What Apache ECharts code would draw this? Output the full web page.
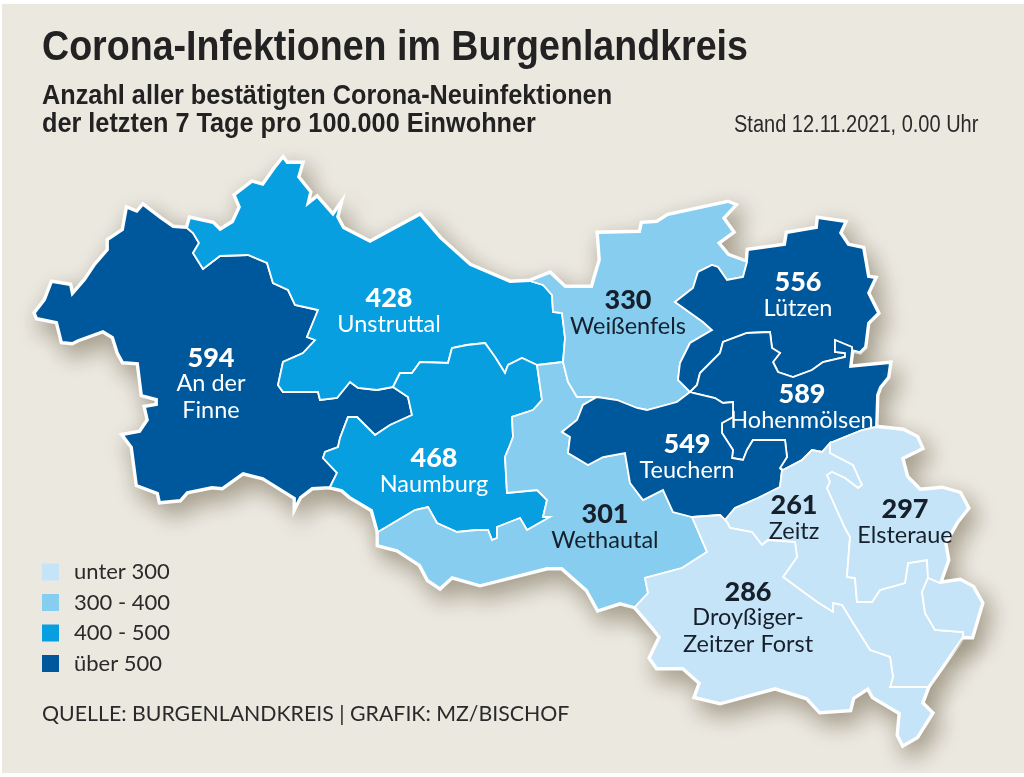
<!DOCTYPE html>
<html><head><meta charset="utf-8">
<style>html,body{margin:0;padding:0;background:#fff;width:1024px;height:777px;overflow:hidden}
#bg{position:absolute;left:2px;top:4px;width:1022px;height:769px;background:#ebe8e0}
#c{position:absolute;left:0;top:0;width:1024px;height:777px}</style>
<script src="https://cdn.jsdelivr.net/npm/echarts@6/dist/echarts.min.js"></script>
</head><body><div id="bg"></div><div id="c"></div>
<script>
const titleText='Corona-Infektionen im Burgenlandkreis';
const subtitleLines=['Anzahl aller bestätigten Corona-Neuinfektionen','der letzten 7 Tage pro 100.000 Einwohner'];
const dateText='Stand 12.11.2021, 0.00 Uhr';
const sourceText='QUELLE: BURGENLANDKREIS | GRAFIK: MZ/BISCHOF';
const regionNames=['An der Finne','Unstruttal','Naumburg','Wethautal','Weißenfels','Lützen','Hohenmölsen','Teuchern','Zeitz','Elsteraue','Droyßiger-Zeitzer Forst'];
const regionValues=[594,428,468,301,330,556,589,549,261,297,286];
const labelLines=[['An der','Finne'],['Unstruttal'],['Naumburg'],['Wethautal'],['Weißenfels'],['Lützen'],['Hohenmölsen'],['Teuchern'],['Zeitz'],['Elsteraue'],['Droyßiger-','Zeitzer Forst']];
const labelAnchors=[[211,385],[389,312],[434,472],[605,528],[628,314],[798,296],[802,408],[687,458],[794,519],[905,523],[748,619]];
const legendLabels=['unter 300','300 - 400','400 - 500','über 500'];
const legendColors=['#c6e4f7','#86cdf0','#079fe0','#00589c'];

// traced district borders (map geometry, shared between neighbours)
const finneOuter=[[187,228],[173,227],[160,218],[143,205],[137,212],[127,208],[123,230],[108,240],[108,250],[95,265],[85,280],[72,295],[70,285],[52,282],[45,300],[35,313],[37,318],[57,322],[62,342],[72,343],[78,340],[103,331],[113,337],[118,353],[123,362],[138,363],[142,395],[157,399],[157,405],[145,407],[148,420],[140,432],[123,435],[132,447],[137,485],[158,493],[160,502],[180,500],[187,492],[212,487],[222,488],[243,473],[263,478],[295,498],[295,507],[300,497],[312,488],[330,487]];
const finneNaum=[[330,487],[337,473],[323,458],[325,452],[338,447],[340,438],[348,417],[357,417],[375,435],[390,425],[412,415],[408,397],[393,387]];
const finneUnstrut=[[393,387],[377,390],[358,388],[350,382],[337,398],[320,400],[318,392],[283,392],[278,385],[283,362],[303,353],[315,340],[307,337],[318,310],[295,305],[288,290],[273,283],[267,263],[248,255],[220,256],[203,269],[193,253],[199,243],[193,233],[187,228]];
const unstrutOuter=[[187,228],[190,218],[213,223],[220,230],[233,222],[240,207],[235,195],[252,182],[263,185],[275,168],[283,158],[287,163],[302,163],[298,177],[310,192],[307,205],[317,197],[333,215],[340,205],[337,217],[343,228],[370,242],[420,215],[440,238],[470,265],[510,282],[530,281]];
const unstrutWeiss=[[530,281],[543,285],[552,295],[553,312],[562,313],[565,338],[563,362]];
const unstrutWeth=[[563,362],[537,365]];
const unstrutNaum=[[537,365],[522,358],[508,365],[505,373],[495,357],[485,343],[467,345],[452,348],[448,363],[420,362],[412,373],[400,373],[393,387]];
const naumOuter=[[330,487],[342,490],[350,497],[372,510],[378,532]];
const wethNaum=[[537,365],[542,400],[533,410],[512,417],[513,437],[510,445],[505,457],[507,493],[537,490],[547,500],[543,517],[550,517],[527,530],[520,518],[497,527],[497,538],[492,540],[488,530],[477,530],[457,532],[437,523],[428,507],[415,510],[378,532]];
const wethOuter=[[378,532],[378,545],[397,550],[420,565],[428,580],[440,588],[452,577],[480,585],[547,568],[562,568],[587,590],[598,610],[620,603],[635,607]];
const wethDroy=[[635,607],[648,593],[645,578],[682,568],[707,552],[692,517]];
const teuchWeth=[[597,397],[583,405],[577,420],[562,432],[570,437],[568,453],[588,465],[603,457],[625,453],[630,483],[643,500],[663,490],[673,512],[692,517]];
const weissWeth=[[597,397],[577,397],[568,382],[563,362]];
const weissOuter=[[530,281],[550,273],[565,287],[592,287],[600,260],[598,233],[640,232],[642,223],[657,222],[668,215],[728,202],[735,205],[723,218],[733,232],[718,243],[728,255],[747,262]];
const weissLutzen=[[747,262],[743,277],[727,280],[718,267],[712,265],[698,272],[693,288],[675,302],[703,322],[712,330],[690,343],[680,363],[678,380],[690,392]];
const weissTeuch=[[690,392],[677,402],[647,410],[637,408],[617,400],[597,397]];
const lutzenOuter=[[747,262],[748,250],[785,245],[787,233],[817,228],[818,218],[845,222],[840,233],[848,245],[863,248],[868,277],[875,278],[868,293],[878,313],[868,323],[865,347],[860,352],[852,350]];
const lutzHoh=[[852,350],[852,347],[835,340],[835,352],[845,353],[845,357],[823,362],[812,370],[793,377],[778,372],[773,362],[780,353],[772,348],[770,332],[747,333],[723,342],[720,353],[708,365],[700,373],[697,385],[690,392]];
const hohOuter=[[852,350],[850,367],[890,363],[888,377],[880,387],[877,395],[876,427]];
const hohElst=[[876,427],[862,430],[830,443]];
const hohZeitz=[[830,443],[822,452],[812,450],[802,460],[783,470],[780,468]];
const hohTeuch=[[780,468],[787,457],[785,440],[753,440],[747,450],[743,460],[732,458],[733,450],[722,433],[722,423],[733,417],[733,402],[723,403],[715,398],[693,393],[690,392]];
const teuchZeitz=[[780,468],[782,470],[780,487],[758,498],[735,508],[725,520]];
const teuchDroy=[[725,520],[720,515],[692,517]];
const zeitzDroy=[[725,520],[727,522],[730,528],[752,532],[762,545],[768,540],[795,542],[797,557],[783,577],[817,602],[833,612],[833,603],[842,605],[853,623],[870,650],[890,657],[893,677],[890,687],[928,687]];
const droyOuter=[[635,607],[653,628],[660,637],[650,658],[657,668],[683,668],[700,683],[695,697],[720,703],[775,688],[807,698],[820,712],[850,710],[853,698],[868,688],[873,697],[900,713],[898,735],[903,745],[917,737],[932,713],[922,703],[928,687]];
const zeitzElst=[[830,443],[830,453],[853,465],[862,485],[858,488],[845,478],[832,472],[827,475],[830,482],[827,488],[840,517],[845,528],[850,537],[848,563],[847,577],[855,578],[857,602],[872,602],[880,590],[905,583],[908,563],[927,560],[928,578]];
const zeitzEast=[[928,578],[922,592],[925,613],[935,630],[963,632],[963,637]];
const zeitzOuter=[[963,637],[928,687]];
const elstOuter=[[876,427],[903,430],[917,437],[922,448],[902,458],[907,477],[920,490],[942,488],[960,493],[968,508],[957,522],[945,543],[948,560],[942,577],[940,583],[928,578]];
const eastOuter=[[940,583],[960,580],[973,587],[982,603],[972,637],[963,637]];

const rv=a=>a.slice().reverse();
const ring=(...parts)=>{const r=[].concat(...parts);r.push(r[0]);return r;};
const rings=[
 [ring(finneOuter,finneNaum,finneUnstrut)],
 [ring(unstrutOuter,unstrutWeiss,unstrutWeth,unstrutNaum,finneUnstrut)],
 [ring(unstrutNaum,rv(finneNaum),naumOuter,rv(wethNaum))],
 [ring(wethNaum,wethOuter,wethDroy,rv(teuchWeth),weissWeth,unstrutWeth)],
 [ring(rv(unstrutWeiss),weissOuter,weissLutzen,weissTeuch,weissWeth)],
 [ring(lutzenOuter,lutzHoh,rv(weissLutzen))],
 [ring(rv(lutzHoh),hohOuter,hohElst,hohZeitz,hohTeuch)],
 [ring(rv(teuchWeth),rv(weissTeuch),rv(hohTeuch),teuchZeitz,teuchDroy)],
 [ring(rv(teuchZeitz),rv(hohZeitz),zeitzElst,zeitzEast,zeitzOuter,rv(zeitzDroy))],
 [ring(elstOuter,rv(zeitzElst),rv(hohElst)),ring(eastOuter,rv(zeitzEast))],
 [ring(rv(wethDroy),droyOuter,rv(zeitzDroy),teuchDroy)]
];
const geojson={type:'FeatureCollection',features:regionNames.map((n,i)=>({type:'Feature',
  properties:{name:n,cp:labelAnchors[i]},geometry:{type:'MultiPolygon',coordinates:rings[i].map(r=>[r])}}))};
echarts.registerMap('burgenland',geojson);
echarts.registerMap('burgenlandOutline',geojson);

const all=[].concat(...rings.map(p=>[].concat(...p)));
const xs=all.map(p=>p[0]),ys=all.map(p=>p[1]);
const minX=Math.min(...xs),minY=Math.min(...ys),W=Math.max(...xs)-minX,H=Math.max(...ys)-minY;
const flat={project:p=>p,unproject:p=>p};
const place={left:minX,top:minY,width:W,height:H};

const sans='Lato, "Open Sans", sans-serif';
const heavy='"Liberation Sans", sans-serif';
const headline=(text,x,y,scaleX,font,fill)=>({type:'text',x,y,scaleX,originX:0,originY:0,silent:true,
  style:{text,font,fill,textVerticalAlign:'middle',verticalAlign:'middle'}});
const data=regionNames.map((n,i)=>{
  const light=regionValues[i]<400;
  const col=light?'#16202c':'#ffffff';
  return {name:n,value:regionValues[i],label:{rich:{v:{color:col,fontFamily:sans,fontWeight:900,fontSize:27,lineHeight:24},n:{color:col,fontFamily:sans,fontSize:23.5,lineHeight:27}}}};
});
const chart=echarts.init(document.getElementById('c'),null,{renderer:'canvas'});
chart.setOption({
 animation:false,
 backgroundColor:'transparent',
 graphic:[
  headline(titleText,42,48,0.895,'bold 42px '+heavy,'#222222'),
  headline(subtitleLines[0],42,97,0.936,'bold 27px '+heavy,'#222222'),
  headline(subtitleLines[1],42,125,0.936,'bold 27px '+heavy,'#222222'),
  headline(dateText,734,126,0.87,'23px '+heavy,'#2a2a2a'),
  headline(sourceText,42,714,1,'21.3px '+sans,'#2a2a2a')
 ],
 visualMap:{type:'piecewise',seriesIndex:1,orient:'vertical',inverse:true,left:27,top:546,itemWidth:17,itemHeight:17,itemGap:8.5,textGap:15,itemSymbol:'rect',
  hoverLink:false,selectedMode:false,
  pieces:[{max:300,label:legendLabels[0],color:legendColors[0]},{min:300,max:400,label:legendLabels[1],color:legendColors[1]},{min:400,max:500,label:legendLabels[2],color:legendColors[2]},{min:500,label:legendLabels[3],color:legendColors[3]}],
  textStyle:{fontFamily:sans,fontSize:22,color:'#2a2a2a'}},
 series:[
  Object.assign({type:'map',map:'burgenlandOutline',projection:flat,roam:false,silent:true,z:1,data:[],label:{show:false},
   itemStyle:{areaColor:'#ffffff',borderColor:'#ffffff',borderWidth:5,shadowColor:'rgba(85,70,45,0.45)',shadowBlur:22,shadowOffsetX:6,shadowOffsetY:10},
   emphasis:{disabled:true},select:{disabled:true}},place),
  Object.assign({type:'map',map:'burgenland',projection:flat,roam:false,silent:true,z:2,data,
   itemStyle:{borderColor:'#ffffff',borderWidth:1.8},
   label:{show:true,formatter:p=>{const i=regionNames.indexOf(p.name);return '{v|'+regionValues[i]+'}\n'+labelLines[i].map(t=>'{n|'+t+'}').join('\n');}},
   emphasis:{disabled:true},select:{disabled:true}},place)
 ]
});
</script></body></html>
